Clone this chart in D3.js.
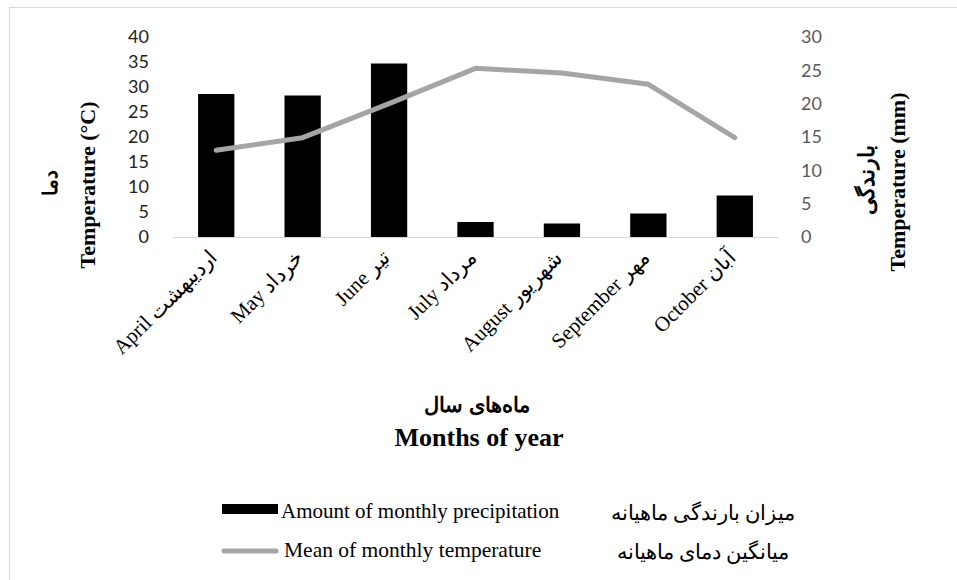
<!DOCTYPE html>
<html>
<head>
<meta charset="utf-8">
<script src="https://cdn.jsdelivr.net/npm/d3@7/dist/d3.min.js"></script>
<style>
  body { margin: 0; background: #fff; }
  text { font-family: "Times New Roman", "Liberation Serif", serif; }
</style>
</head>
<body>
<svg id="chart"></svg>
<script>
// Month labels (English + Persian)
const months = ["April", "May", "June", "July", "August", "September", "October"];
const monthsFa = ["اردیبهشت", "خرداد", "تیر", "مرداد", "شهریور", "مهر", "آبان"];

// Series values
const precipitation = [28.6, 28.3, 34.7, 3.0, 2.7, 4.7, 8.3];   // bars, left axis
const temperature = [13.0, 14.9, 20.0, 25.3, 24.6, 22.9, 14.9];  // line, right axis

const leftTicks = [0, 5, 10, 15, 20, 25, 30, 35, 40];
const rightTicks = [0, 5, 10, 15, 20, 25, 30];

const width = 957, height = 580;
const margin = {top: 37, bottom: 343, left: 173, right: 179};

const svg = d3.select("#chart")
    .attr("width", width)
    .attr("height", height);

// chart area border
svg.append("rect")
    .attr("x", 9.5).attr("y", 7.5)
    .attr("width", 1000).attr("height", 700)
    .attr("fill", "#fff")
    .attr("stroke", "#d9d9d9");

// Scales
const xScale = d3.scaleBand()
    .domain(months)
    .range([margin.left, width - margin.right])
    .paddingInner(0.58)
    .paddingOuter(0.29);

const yLeft = d3.scaleLinear()
    .domain([0, 40])
    .range([height - margin.bottom, margin.top]);

const yRight = d3.scaleLinear()
    .domain([0, 30])
    .range([height - margin.bottom, margin.top]);

// Left axis
const leftAxis = svg.append("g")
    .attr("transform", `translate(${margin.left - 24}, 0)`)
    .call(d3.axisLeft(yLeft).tickValues(leftTicks).tickSize(0).tickPadding(0));
leftAxis.select(".domain").remove();
leftAxis.selectAll("text")
    .style("font-family", "Lato, 'Open Sans', sans-serif")
    .style("font-size", "18px")
    .attr("fill", "#222");

// Right axis
const rightAxis = svg.append("g")
    .attr("transform", `translate(${width - margin.right + 23}, 0)`)
    .call(d3.axisRight(yRight).tickValues(rightTicks).tickSize(0).tickPadding(0));
rightAxis.select(".domain").remove();
rightAxis.selectAll("text")
    .style("font-family", "Lato, 'Open Sans', sans-serif")
    .style("font-size", "18px")
    .attr("fill", "#595959");

// Bars
svg.selectAll(".bar")
    .data(precipitation)
    .enter().append("rect")
    .attr("class", "bar")
    .attr("x", (d, i) => xScale(months[i]))
    .attr("y", d => yLeft(d))
    .attr("width", xScale.bandwidth())
    .attr("height", d => yLeft(0) - yLeft(d))
    .attr("fill", "#000");

// Baseline
svg.append("line")
    .attr("x1", margin.left).attr("x2", width - margin.right)
    .attr("y1", yLeft(0) + 0.5).attr("y2", yLeft(0) + 0.5)
    .attr("stroke", "#d9d9d9")
    .attr("stroke-width", 1);

// Temperature line
const line = d3.line()
    .x((d, i) => xScale(months[i]) + xScale.bandwidth() / 2)
    .y(d => yRight(d));

svg.append("path")
    .datum(temperature)
    .attr("d", line)
    .attr("fill", "none")
    .attr("stroke", "#a5a5a5")
    .attr("stroke-width", 5)
    .attr("stroke-linecap", "round")
    .attr("stroke-linejoin", "round");

// X labels, rotated
svg.selectAll(".xlabel")
    .data(months)
    .enter().append("text")
    .attr("class", "xlabel")
    .attr("transform", d => `translate(${xScale(d) + xScale.bandwidth() / 2 + 2}, ${yLeft(0) + 22}) rotate(-45)`)
    .attr("text-anchor", "end")
    .style("font-size", "21px")
    .text((d, i) => d + " " + monthsFa[i]);

// X axis titles
svg.append("text")
    .attr("x", 477).attr("y", 412)
    .attr("text-anchor", "middle")
    .style("font-size", "21px")
    .style("font-weight", "bold")
    .text("ماه‌های سال");

svg.append("text")
    .attr("x", 479).attr("y", 446)
    .attr("text-anchor", "middle")
    .style("font-size", "26px")
    .style("font-weight", "bold")
    .text("Months of year");

// Left axis titles
svg.append("text")
    .attr("transform", "translate(95, 185) rotate(-90)")
    .attr("text-anchor", "middle")
    .style("font-size", "22px")
    .style("font-weight", "bold")
    .text("Temperature (°C)");

svg.append("text")
    .attr("transform", "translate(57, 183) rotate(-90)")
    .attr("text-anchor", "middle")
    .style("font-size", "20px")
    .style("font-weight", "bold")
    .text("دما");

// Right axis titles
svg.append("text")
    .attr("transform", "translate(905, 182) rotate(-90)")
    .attr("text-anchor", "middle")
    .style("font-size", "22px")
    .style("font-weight", "bold")
    .text("Temperature (mm)");

svg.append("text")
    .attr("transform", "translate(874, 180) rotate(-90)")
    .attr("text-anchor", "middle")
    .style("font-size", "22px")
    .style("font-weight", "bold")
    .text("بارندگی");

// Legend
const legend = svg.append("g");
legend.append("rect")
    .attr("x", 222).attr("y", 504)
    .attr("width", 56).attr("height", 10)
    .attr("fill", "#000");
legend.append("text")
    .attr("x", 281).attr("y", 518)
    .style("font-size", "21px")
    .text("Amount of monthly precipitation");
legend.append("text")
    .attr("x", 795).attr("y", 520)
    .attr("text-anchor", "end")
    .style("font-size", "21px")
    .text("میزان بارندگی ماهیانه");

legend.append("line")
    .attr("x1", 224).attr("x2", 276)
    .attr("y1", 551).attr("y2", 551)
    .attr("stroke", "#a5a5a5")
    .attr("stroke-width", 5)
    .attr("stroke-linecap", "round");
legend.append("text")
    .attr("x", 284).attr("y", 557)
    .style("font-size", "21.5px")
    .text("Mean of monthly temperature");
legend.append("text")
    .attr("x", 789).attr("y", 559)
    .attr("text-anchor", "end")
    .style("font-size", "21px")
    .text("میانگین دمای ماهیانه");
</script>
</body>
</html>
